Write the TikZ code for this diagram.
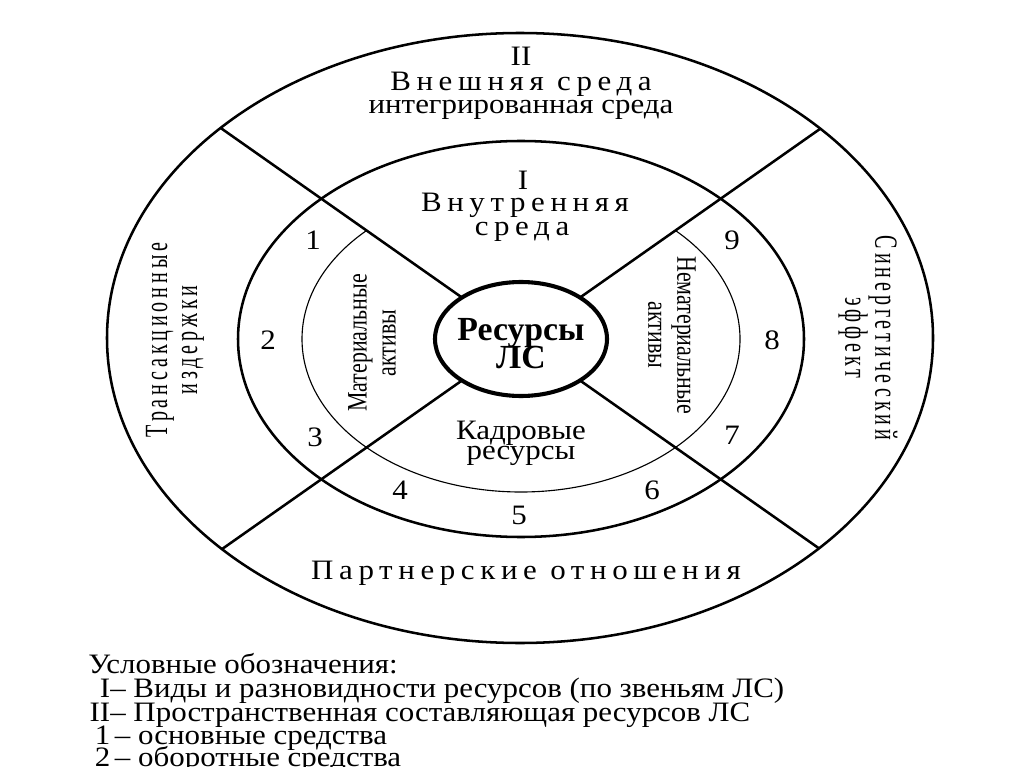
\documentclass[tikz,border=0pt]{standalone}
\usepackage{fontspec}
\setmainfont{Liberation Serif}[FakeStretch=1.1]
\newfontfamily\spacedfont[FakeStretch=1.1,LetterSpace=20]{Liberation Serif}
\newfontfamily\sidefont[FakeStretch=0.62,LetterSpace=12]{Liberation Serif}
\newfontfamily\narrowfont[FakeStretch=0.78]{Liberation Serif}
\newfontfamily\boldfont[FakeStretch=1.0]{Liberation Serif Bold}
\newfontfamily\legendfont[FakeStretch=1.1]{Liberation Serif}
\begin{document}
\begin{tikzpicture}[x=0.025cm,y=-0.025cm,
  ring/.style={line width=1.8pt, line join=round},
  thinring/.style={line width=0.8pt},
  core/.style={line width=2.9pt, fill=white},
  lbl/.style={inner sep=0pt, anchor=base, font=\fontsize{20}{16}\selectfont},
  spaced/.style={inner sep=0pt, anchor=base, font=\fontsize{20}{16}\selectfont\spacedfont},
  side/.style={inner sep=0pt, font=\fontsize{23}{21.3}\selectfont\sidefont, align=center},
  narrow/.style={inner sep=0pt, font=\fontsize{20}{20.6}\selectfont\narrowfont, align=center},
  num/.style={inner sep=0pt, anchor=base, font=\fontsize{20}{16}\selectfont},
  corelbl/.style={inner sep=0pt, anchor=base, font=\fontsize{24}{20}\selectfont\boldfont},
  legend/.style={inner sep=0pt, anchor=base west, font=\fontsize{20}{16}\selectfont\legendfont}]
\useasboundingbox (0,0) rectangle (1024,767);
\fill[white] (0,0) rectangle (1024,767);

\coordinate (C) at (521,339);
\coordinate (ul) at (-91,-91);
\coordinate (ur) at (1133,-91);
\coordinate (ll) at (-91,769);
\coordinate (lr) at (1133,769);

% outer and middle rings
\draw[ring] (520,338) ellipse [x radius=413, y radius=305];
\draw[ring] (521,339) ellipse [x radius=283, y radius=198];

% the X
\begin{scope}
  \clip (520,338) ellipse [x radius=413, y radius=305];
  \draw[ring] (C) -- (ul);
  \draw[ring] (C) -- (ur);
  \draw[ring] (C) -- (ll);
  \draw[ring] (C) -- (lr);
\end{scope}

% thin inner arc (absent in the top sector)
\begin{scope}
  \clip (C) -- (ur) -- (1300,1000) -- (-300,1000) -- (ul) -- cycle;
  \draw[thinring] (521,339) ellipse [x radius=219, y radius=153];
\end{scope}

% central ellipse
\draw[core] (C) ellipse [x radius=86, y radius=57];
\node[corelbl] (res1) at (521,340) {Ресурсы};
\node[corelbl] (res2) at (521,368) {ЛС};

% top sector texts
\node[lbl] (II) at (521,66) {II};
\node[spaced] (ext) at (521,91) {Внешняя среда};
\node[lbl] (integ) at (521,114) {интегрированная среда};
\node[lbl] (I) at (523,190) {I};
\node[spaced] (int1) at (525,212) {Внутренняя};
\node[spaced] (int2) at (522,235) {среда};

% sides
\node[side, rotate=90] (trans) at (175,340) {Трансакционные\\издержки};
\node[side, rotate=-90] (syn) at (868,338) {Синергетический\\эффект};

% inner sectors
\node[narrow, rotate=90] (mat) at (372,343) {Материальные\\активы};
\node[narrow, rotate=-90] (nemat) at (672,335) {Нематериальные\\активы};
\node[lbl] (kadr1) at (521,439) {Кадровые};
\node[lbl] (kadr2) at (521,459) {ресурсы};

% bottom sector
\node[spaced] (part) at (526,579) {Партнерские отношения};

% numbers
\node[num] (n1) at (313,250) {1};
\node[num] (n2) at (268,349) {2};
\node[num] (n3) at (315,446) {3};
\node[num] (n4) at (400,499) {4};
\node[num] (n5) at (519,524) {5};
\node[num] (n6) at (652,499) {6};
\node[num] (n7) at (732,444) {7};
\node[num] (n8) at (772,349) {8};
\node[num] (n9) at (732,249) {9};

% legend
\node[legend] (lg0) at (88,673) {Условные обозначения:};
\node[legend] (lg1) at (88,697) {\makebox[0.55cm][r]{I}– Виды и разновидности ресурсов (по звеньям ЛС)};
\node[legend] (lg2) at (88,721) {\makebox[0.55cm][r]{II}– Пространственная составляющая ресурсов ЛС};
\node[legend] (lg3) at (88,744) {\makebox[0.55cm][r]{1}\,– основные средства};
\node[legend] (lg4) at (88,766) {\makebox[0.55cm][r]{2}\,– оборотные средства};
\end{tikzpicture}
\end{document}
